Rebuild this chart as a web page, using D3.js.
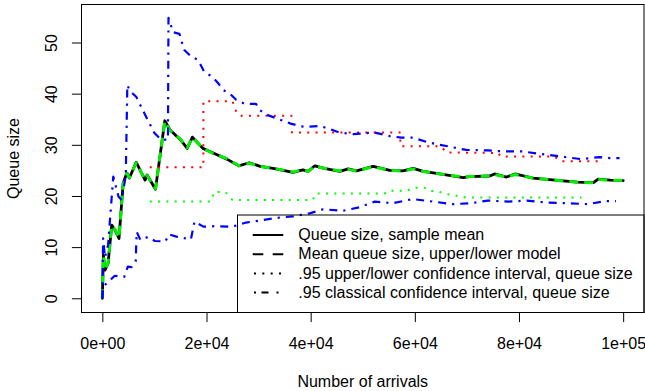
<!DOCTYPE html>
<html><head><meta charset="utf-8">
<script src="https://cdn.jsdelivr.net/npm/d3@7"></script>
<style>
html,body{margin:0;padding:0;background:#fff;}
svg{display:block;font-family:"Liberation Sans",Arial,Helvetica,sans-serif;}
</style></head><body>
<svg id="chart" width="645" height="391"></svg>
<script>
// ---- data ----
const meanX = [0,200,500,1100,1800,2400,3200,4000,4700,5200,6500,8200,8600,10200,12000,13000,15000,16300,17300,19300,21500,23900,26200,28200,30300,32800,36600,38500,39500,40800,42600,45600,47200,48800,52000,55200,57700,59700,61600,64800,69300,70500,74400,75300,77600,79200,82700,85900,89000,91200,94300,95200,97500,100000];
const meanY = [0,8.5,5.5,6.8,14.3,13.4,11.7,22.5,24.5,23.5,26.6,23.1,24.1,21.3,34.7,32.9,31.0,29.3,31.5,29.3,28.3,27.2,25.9,26.5,25.8,25.4,24.6,25.1,24.8,25.9,25.4,24.8,25.3,24.9,25.8,25.0,24.9,25.4,24.8,24.3,23.6,23.8,23.9,24.3,23.7,24.3,23.5,23.2,22.9,22.7,22.6,23.3,23.1,23.0];
const modelY = [0,8.4,5.6,6.9,14.2,13.5,11.8,22.4,24.4,23.6,26.5,23.2,24.0,21.4,34.6,32.8,31.1,29.4,31.4,29.3,28.2,27.3,25.9,26.4,25.8,25.4,24.7,25.1,24.8,25.8,25.4,24.9,25.2,24.9,25.7,25.0,24.9,25.3,24.8,24.3,23.7,23.8,23.9,24.2,23.7,24.2,23.5,23.2,22.9,22.7,22.6,23.2,23.1,23.0];

const ulUpperX = [9100,19400,19400,25000,25800,26500,36300,36400,57100,57300,65000,66100,76000,76500,86800,88100,96200];
const ulUpperY = [25.6,25.6,38.5,38.5,36.2,35.7,35.7,32.4,32.4,29.7,29.7,28.5,28.4,27.7,27.7,26.8,26.8];

const ulLowerX = [9100,20800,21500,23600,25000,40400,41000,54200,54800,58500,59600,61900,62800,64500,65800,68300,69800,92000];
const ulLowerY = [18.9,18.9,20.8,20.8,19.2,19.2,20.5,20.5,21.0,21.0,21.6,21.6,21.0,20.9,20.4,20.0,19.7,19.7];

const clUpperX = [0,150,500,1100,2100,3100,3700,4500,4800,5300,6500,8400,10000,11300,12600,12700,13600,14800,15700,17100,18400,19600,21000,22200,23200,24500,25700,27400,29500,30200,31500,33400,36000,38100,39200,41700,43700,45500,48200,52300,55200,57400,59600,62500,64800,66400,68300,69900,74000,77100,80700,84300,88100,91900,95500,97400,99300];
const clUpperY = [0,11.7,8.0,10.4,23.8,19.9,19.2,24.0,41.7,40.5,39.4,35.5,32.3,31.0,31.0,54.8,52.0,51.7,48.6,47.2,46.6,44.2,43.4,42.1,40.7,40.0,38.8,38.0,38.0,36.8,35.9,35.2,34.2,33.6,33.5,33.7,33.1,32.4,32.1,32.4,31.7,31.4,31.4,30.5,30.0,29.7,29.3,29.0,28.9,28.7,28.7,28.2,27.7,27.2,27.6,27.4,27.4];

const clLowerX = [0,200,1100,2400,4200,4900,5600,6400,6600,7300,8800,10100,12100,12800,14400,17000,17700,19400,21800,25000,27600,30900,34100,36600,39800,42400,46200,49400,52300,55800,59600,63500,67300,70900,74000,77900,81500,85300,89100,93200,96700,98600];
const clLowerY = [0,2.3,3.2,4.4,4.2,6.2,6.1,7.2,13.0,11.4,12.0,11.2,11.1,12.5,12.0,11.5,15.0,14.0,14.1,14.0,14.8,15.3,15.8,16.0,16.6,17.4,17.1,17.8,18.9,18.6,19.4,18.9,18.4,18.6,19.1,18.9,19.1,18.7,18.6,18.4,19.0,19.0];

const xTicks = [0,20000,40000,60000,80000,100000];
const xTickLabels = ["0e+00","2e+04","4e+04","6e+04","8e+04","1e+05"];
const yTicks = [0,10,20,30,40,50];
const legendLabels = ["Queue size, sample mean","Mean queue size, upper/lower model",".95 upper/lower confidence interval, queue size",".95 classical confidence interval, queue size"];

// ---- layout ----
const L = 81.5, R = 644, T = 4.5, B = 312.5;
const svg = d3.select("#chart");
const x = d3.scaleLinear().domain([-4000,104000]).range([L,R]);
const y = d3.scaleLinear().domain([-2.78,57.43]).range([B,T]);

const zip = (xs,ys)=>xs.map((v,i)=>[v,ys[i]]);
const line = d3.line().x(d=>x(d[0])).y(d=>y(d[1]));
const clipId = "plotclip";
svg.append("clipPath").attr("id",clipId).append("rect").attr("x",L).attr("y",T).attr("width",R-L).attr("height",B-T);
const g = svg.append("g").attr("clip-path",`url(#${clipId})`);

function draw(xs,ys,color,w,dash){
  g.append("path").datum(zip(xs,ys)).attr("d",line)
   .attr("fill","none").attr("stroke",color).attr("stroke-width",w)
   .attr("stroke-dasharray",dash||null).attr("stroke-linejoin","round")
   .attr("stroke-linecap", dash ? "butt" : "round");
}
draw(meanX,meanY,"#000000",2.8,null);
draw(meanX,modelY,"#00ee00",3,"9,6");
draw(ulUpperX,ulUpperY,"#ff0000",2,"2,6.3");
draw(ulLowerX,ulLowerY,"#00ff00",2,"2,6.3");
draw(clUpperX,clUpperY,"#0000ff",2.2,"8,6,2.2,6");
draw(clLowerX,clLowerY,"#0000ff",2.2,"8,6,2.2,6");

// box
svg.append("rect").attr("x",L).attr("y",T).attr("width",R-L).attr("height",B-T)
  .attr("fill","none").attr("stroke","#000").attr("stroke-width",1);

// x axis (ticks + labels)
const xa = d3.axisBottom(x).tickValues(xTicks).tickFormat((d,i)=>xTickLabels[i]).tickSizeOuter(0).tickSize(9.6).tickPadding(0);
const gx = svg.append("g").attr("transform",`translate(0,${B})`).call(xa);
gx.select(".domain").remove();
gx.selectAll("line").attr("stroke","#000");
gx.selectAll("text").attr("font-size",16).attr("fill","#000").attr("font-family",null)
  .attr("dy",null).attr("y",36);

// y axis
const ya = d3.axisLeft(y).tickValues(yTicks).tickSizeOuter(0).tickSize(9.6).tickPadding(0);
const gy = svg.append("g").attr("transform",`translate(${L},0)`).call(ya);
gy.select(".domain").remove();
gy.selectAll("line").attr("stroke","#000");
gy.selectAll("text").attr("font-size",16).attr("fill","#000").attr("font-family",null)
  .attr("x",null).attr("dy",null).attr("text-anchor","middle")
  .attr("transform","translate(-24.5,0) rotate(-90)");

// axis titles
svg.append("text").attr("x",(L+R)/2).attr("y",387).attr("text-anchor","middle")
  .attr("font-size",16).text("Number of arrivals");
svg.append("text").attr("transform",`translate(19,${(T+B)/2}) rotate(-90)`).attr("text-anchor","middle")
  .attr("font-size",16).text("Queue size");

// legend
const lgL = 237.5, lgT = 215;
svg.append("rect").attr("x",lgL).attr("y",lgT).attr("width",R-lgL).attr("height",B-lgT)
  .attr("fill","none").attr("stroke","#000").attr("stroke-width",1);
const dashes = [null,"10.6,9.4","2,6.33","2,5.5,7,8"];
const segStart = [252.7,252.7,254,254];
legendLabels.forEach((lab,i)=>{
  const cy = 235 + i*19.2;
  svg.append("line").attr("x1",segStart[i]).attr("x2",283.3).attr("y1",cy).attr("y2",cy)
    .attr("stroke","#000").attr("stroke-width",2).attr("stroke-dasharray",dashes[i]);
  svg.append("text").attr("x",298.3).attr("y",cy+5.2).attr("font-size",16).text(lab);
});
</script>
</body></html>
